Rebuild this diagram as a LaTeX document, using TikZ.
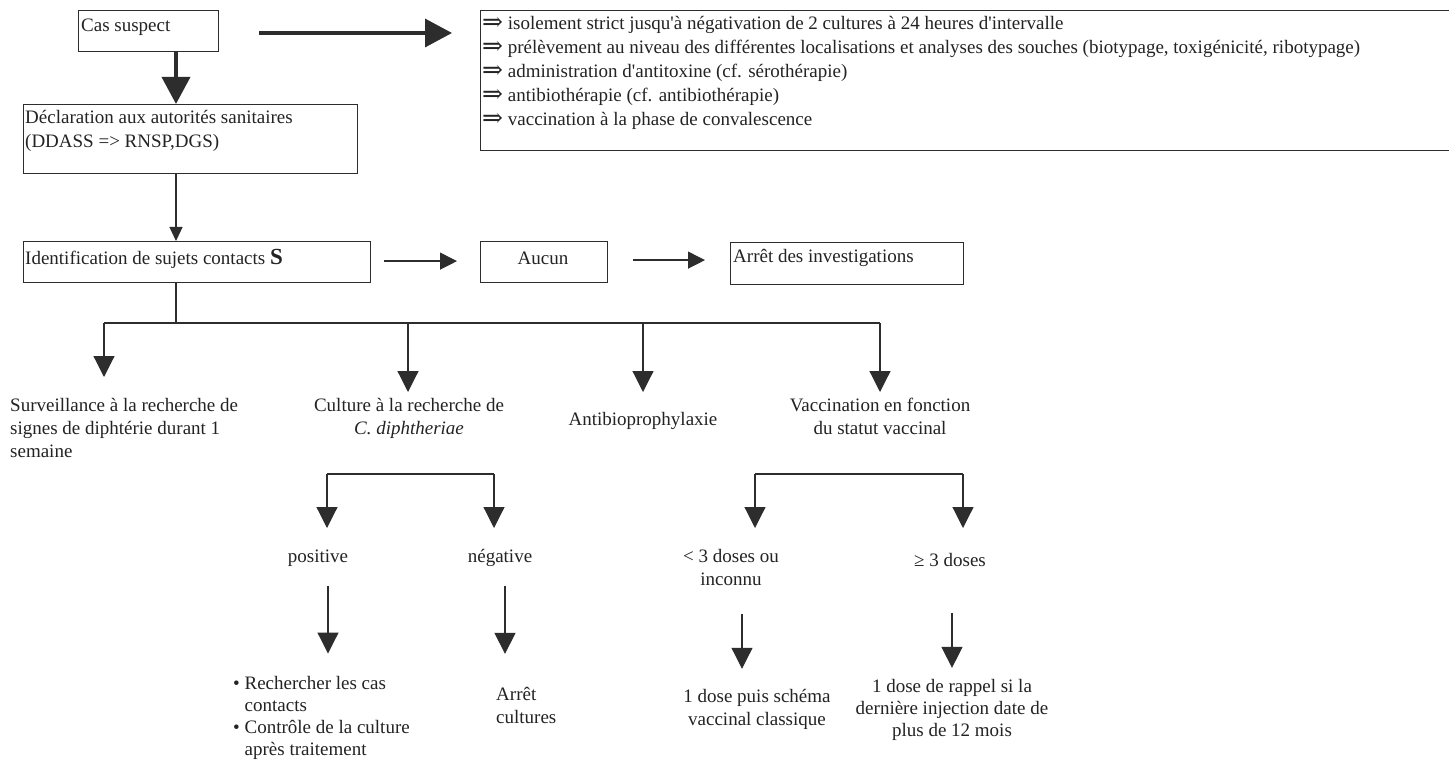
\documentclass[tikz,border=0pt]{standalone}
\usepackage{fontspec}
\setmainfont{Liberation Serif}
\newfontfamily\arrowfont{DejaVu Serif}
\usetikzlibrary{arrows.meta,calc}
\definecolor{linec}{RGB}{45,45,45}
\definecolor{textc}{RGB}{35,35,35}
\newcommand{\impl}{{\arrowfont\fontsize{25}{19}\selectfont\raisebox{-1.5pt}{⇒}}}
\begin{document}
\begin{tikzpicture}[x=1pt,y=-1pt,
  box/.style={draw=linec, line width=1.2pt, inner sep=0pt, anchor=north west},
  txt/.style={font=\fontsize{19}{23}\selectfont, text=textc, inner sep=0pt},
  bigarrow/.style={draw=linec, line width=3.5pt, -{Triangle[length=27pt,width=28pt]}},
  arr/.style={draw=linec, line width=1.2pt, -{Triangle[length=21pt,width=21pt]}},
  medarr/.style={draw=linec, line width=1.2pt, -{Triangle[length=17pt,width=17pt]}},
  smallarr/.style={draw=linec, line width=1.2pt, -{Triangle[length=14pt,width=13pt]}},
  link/.style={draw=linec, line width=1.2pt}]
\clip (0,0) rectangle (1449,762);
\fill[white] (0,0) rectangle (1449,762);

% boxes
\node[box, minimum width=140pt, minimum height=41pt] (cas) at (78,10) {};
\node[txt, anchor=west] (castxt) at (81,27) {Cas suspect};

\node[box, minimum width=985pt, minimum height=140pt] (act) at (480,10) {};
\node[txt, anchor=north west, align=left, font=\fontsize{19}{24}\selectfont] (acttxt) at (482,16) {%
\impl\ isolement strict jusqu\textquotesingle à négativation de 2 cultures à 24 heures d\textquotesingle intervalle\\
\impl\ prélèvement au niveau des différentes localisations et analyses des souches (biotypage, toxigénicité, ribotypage)\\
\impl\ administration d\textquotesingle antitoxine (cf. sérothérapie)\\
\impl\ antibiothérapie (cf. antibiothérapie)\\
\impl\ vaccination à la phase de convalescence};

\node[box, minimum width=334pt, minimum height=69pt] (decl) at (23,104) {};
\node[txt, anchor=north west, align=left, font=\fontsize{19}{24}\selectfont] (decltxt) at (25,110) {Déclaration aux autorités sanitaires\\(DDASS => RNSP,DGS)};

\node[box, minimum width=347pt, minimum height=41pt] (ident) at (23,241) {};
\node[txt, anchor=west] (identtxt) at (25,259) {Identification de sujets contacts \textbf{\fontsize{23}{23}\selectfont S}};

\node[box, minimum width=127pt, minimum height=41pt] (aucun) at (480,241) {};
\node[txt] (auctxt) at (543,258) {Aucun};

\node[box, minimum width=233pt, minimum height=42pt] (arret) at (730,242) {};
\node[txt, anchor=west] (arrettxt) at (733,258) {Arrêt des investigations};

% top connectors
\draw[bigarrow] ($(cas.south west)+(98,0)$) -- ($(decl.north west)+(153,0)$);
\draw[bigarrow] ($(cas.north east)+(40,23)$) -- ($(act.north west)+(-28,23)$);
\draw[smallarr] ($(decl.south west)+(153,0)$) -- ($(ident.north west)+(153,0)$);
\draw[medarr] ($(ident.east)+(13,-1)$) -- ($(aucun.west)+(-23,-1)$);
\draw[medarr] ($(aucun.east)+(25,-2)$) -- ($(aucun.east -| arret.west)+(-25,-2)$);

% first level texts
\node[txt, anchor=north west, align=left] (surv) at (10,398) {Surveillance à la recherche de\\signes de diphtérie durant 1\\semaine};
\node[txt, anchor=north, align=center] (cult) at (409,398) {Culture à la recherche de\\\textit{C. diphtheriae}};
\node[txt] (anti) at (643,421) {Antibioprophylaxie};
\node[txt, anchor=north, align=center] (vacc) at (880,398) {Vaccination en fonction\\du statut vaccinal};

% tree
\coordinate (hub) at (176,323);
\coordinate (b1) at (104,323);
\coordinate (b2) at (408,323);
\coordinate (b3) at (643,323);
\coordinate (b4) at (880,323);
\draw[link] ($(ident.south west)+(153,0)$) -- (hub);
\draw[link] (b1) -- (b4);
\draw[arr] (b1) -- ($(b1 |- surv.north)+(0,-21)$);
\draw[arr] (b2) -- ($(b2 |- cult.north)+(0,-6)$);
\draw[arr] (b3) -- ($(b3 |- cult.north)+(0,-6)$);
\draw[arr] (b4) -- ($(b4 |- vacc.north)+(0,-6)$);

% culture branch
\node[txt] (pos) at (318,558) {positive};
\node[txt] (neg) at (500,558) {négative};
\coordinate (c1) at (327,474);
\coordinate (c2) at (494,474);
\draw[link] (c1) -- (c2);
\draw[arr] (c1) -- (c1 |- 0,528);
\draw[arr] (c2) -- (c2 |- 0,528);
\node[txt, anchor=north west, align=left, font=\fontsize{19}{22}\selectfont] (bul) at (233,676) {\textbullet\ Rechercher les cas\\\hspace*{11.5pt}contacts\\\textbullet\ Contrôle de la culture\\\hspace*{11.5pt}après traitement};
\node[txt, anchor=north west, align=left] (stop) at (496,687) {Arrêt\\cultures};
\draw[arr] ($(pos.south)+(10,19)$) -- ($(pos.south)+(10,87)$);
\draw[arr] ($(neg.south)+(5,19)$) -- ($(neg.south)+(5,87)$);

% vaccination branch
\coordinate (v1) at (755,474);
\coordinate (v2) at (963,474);
\draw[link] (v1) -- (v2);
\draw[arr] (v1) -- (v1 |- 0,528);
\draw[arr] (v2) -- (v2 |- 0,528);
\node[txt, anchor=north, align=center] (low) at (731,549) {< 3 doses ou\\inconnu};
\node[txt] (high) at (950,560) {≥ 3 doses};
\node[txt, anchor=north, align=center] (lowres) at (757,689) {1 dose puis schéma\\vaccinal classique};
\node[txt, anchor=north, align=center, font=\fontsize{19}{22}\selectfont] (highres) at (952,679) {1 dose de rappel si la\\dernière injection date de\\plus de 12 mois};
\draw[arr] ($(low.south)+(11,28)$) -- ($(low.south)+(11,83)$);
\draw[arr] ($(high.south)+(2,46)$) -- ($(high.south)+(2,101)$);
\end{tikzpicture}
\end{document}
